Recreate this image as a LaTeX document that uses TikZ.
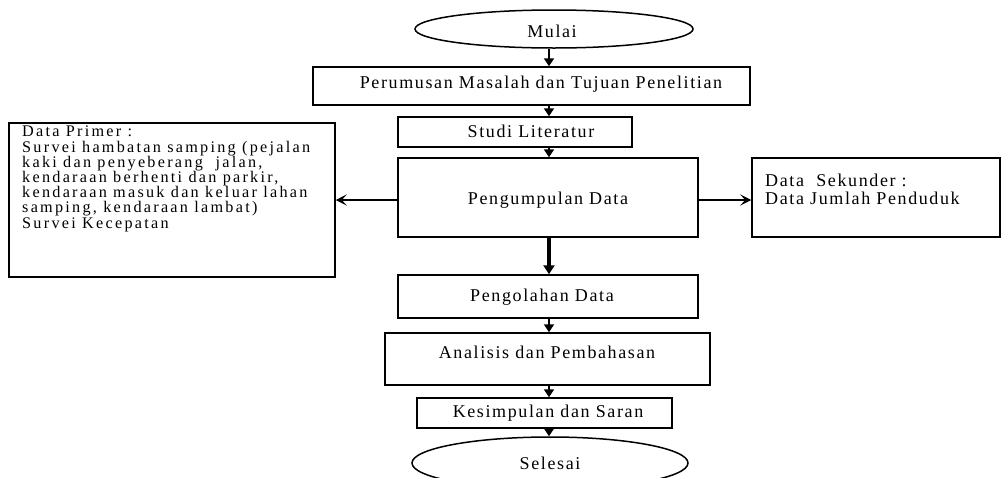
\documentclass[tikz,border=0pt]{standalone}
\usepackage{fontspec}
\setmainfont{Liberation Serif}[LetterSpace=9]
\newfontfamily\primfamily{Liberation Serif}[LetterSpace=14]
\newcommand\myprimfont{\primfamily\fontsize{16.2}{15.2}\selectfont\lineskiplimit=-20pt\relax}
\usetikzlibrary{arrows.meta,shapes.geometric}
\begin{document}
\begin{tikzpicture}[x=1pt,y=-1pt,
  box/.style={draw, line width=1.5pt, inner sep=0pt},
  oval/.style={draw, ellipse, line width=1.5pt, inner sep=0pt},
  txt/.style={font=\fontsize{18}{15.2}\selectfont, inner sep=0pt},
  smalltxt/.style={font={\myprimfont}, inner sep=0pt},
  dn/.style={-{Triangle[length=8pt,width=10pt]}, line width=2pt},
  dnthick/.style={-{Triangle[length=9pt,width=11pt]}, line width=3.5pt},
  side/.style={-{Stealth[length=11pt,width=11pt,inset=5pt]}, line width=2pt}]
\useasboundingbox (0,0) rectangle (1002,477);
\clip (0,0) rectangle (1002,477);
\fill[white] (0,0) rectangle (1002,477);
% shapes
\node[oval, minimum width=278pt, minimum height=38pt] (mulai) at (554,29) {};
\node[box, minimum width=437pt, minimum height=38pt] (perumusan) at (531.5,86) {};
\node[box, minimum width=234pt, minimum height=30pt] (studi) at (515,132) {};
\node[box, minimum width=300pt, minimum height=79pt] (pengumpulan) at (548,197.5) {};
\node[box, minimum width=326pt, minimum height=154pt] (primer) at (172,200) {};
\node[box, minimum width=248pt, minimum height=79pt] (sekunder) at (876,197.5) {};
\node[box, minimum width=300pt, minimum height=43pt] (pengolahan) at (548,296.5) {};
\node[box, minimum width=325pt, minimum height=52pt] (analisis) at (547.5,359) {};
\node[box, minimum width=255pt, minimum height=30pt] (kesimpulan) at (544.5,413) {};
\node[oval, minimum width=276pt, minimum height=52pt] (selesai) at (550,463) {};
% texts
\node[txt] (mulai-t) at (552,31) {Mulai};
\node[txt] (perumusan-t) at (541,84) {Perumusan Masalah dan Tujuan Penelitian};
\node[txt] (studi-t) at (531,131) {Studi Literatur};
\node[txt] (pengumpulan-t) at (548,200) {Pengumpulan Data};
\node[smalltxt, anchor=north west, align=left] (primer-t) at (22,126) {Data Primer :\\
Survei hambatan samping (pejalan\\
kaki dan penyeberang\ \ jalan,\\
kendaraan berhenti dan parkir,\\
kendaraan masuk dan keluar lahan\\
samping, kendaraan lambat)\\
Survei Kecepatan};
\node[txt, anchor=north west, align=left, font=\fontsize{18}{18}\selectfont] (sekunder-t) at (765,174) {Data\ \ Sekunder :\\
Data Jumlah Penduduk};
\node[txt] (pengolahan-t) at (542,297) {Pengolahan Data};
\node[txt] (analisis-t) at (547,352) {Analisis dan Pembahasan};
\node[txt] (kesimpulan-t) at (548,413) {Kesimpulan dan Saran};
\node[txt] (selesai-t) at (550,463) {Selesai};
% connectors
\coordinate (X) at (549,0);
\draw[dn] (mulai.south -| X) -- (perumusan.north -| X);
\draw[dn] (perumusan.south -| X) -- (studi.north -| X);
\draw[dn] (studi.south -| X) -- (pengumpulan.north -| X);
\draw[dnthick] (pengumpulan.south -| X) -- (pengolahan.north -| X);
\draw[dn] (pengolahan.south -| X) -- (analisis.north -| X);
\draw[dn] (analisis.south -| X) -- (kesimpulan.north -| X);
\draw[dn] (kesimpulan.south -| X) -- (selesai.north -| X);
\draw[side] (pengumpulan.west |- primer.east) -- (primer.east);
\draw[side] (pengumpulan.east |- primer.east) -- (sekunder.west |- primer.east);
\end{tikzpicture}
\end{document}
